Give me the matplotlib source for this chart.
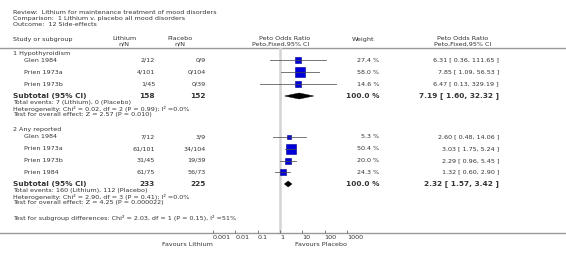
#!/usr/bin/env python3
"""Forest plot: Lithium v. placebo, outcome 12 side-effects (RevMan style)."""

import matplotlib
matplotlib.use("Agg")
import matplotlib.pyplot as plt
from matplotlib.patches import Polygon
import numpy as np

# ------------------------------------------------------------------ data
G1_NAME = "1 Hypothyroidism"
G1_STUDIES = ["Glen 1984", "Prien 1973a", "Prien 1973b"]
G1_LITH = ["2/12", "4/101", "1/45"]
G1_PLAC = ["0/9", "0/104", "0/39"]
G1_WEIGHT = [27.4, 58.0, 14.6]
G1_OR = [6.31, 7.85, 6.47]
G1_LO = [0.36, 1.09, 0.13]
G1_HI = [111.65, 56.53, 329.19]
G1_SUB = [7.19, 1.60, 32.32]
G1_TOTALS = [158, 152]
G1_NOTES = ["Total events: 7 (Lithium), 0 (Placebo)",
            "Heterogeneity: Chi\u00b2 = 0.02, df = 2 (P = 0.99); I\u00b2 =0.0%",
            "Test for overall effect: Z = 2.57 (P = 0.010)"]

G2_NAME = "2 Any reported"
G2_STUDIES = ["Glen 1984", "Prien 1973a", "Prien 1973b", "Prien 1984"]
G2_LITH = ["7/12", "61/101", "31/45", "61/75"]
G2_PLAC = ["3/9", "34/104", "19/39", "56/73"]
G2_WEIGHT = [5.3, 50.4, 20.0, 24.3]
G2_OR = [2.60, 3.03, 2.29, 1.32]
G2_LO = [0.48, 1.75, 0.96, 0.60]
G2_HI = [14.06, 5.24, 5.45, 2.90]
G2_SUB = [2.32, 1.57, 3.42]
G2_TOTALS = [233, 225]
G2_NOTES = ["Total events: 160 (Lithium), 112 (Placebo)",
            "Heterogeneity: Chi\u00b2 = 2.90, df = 3 (P = 0.41); I\u00b2 =0.0%",
            "Test for overall effect: Z = 4.25 (P = 0.000022)"]

SUBGROUP_TEST = "Test for subgroup differences: Chi\u00b2 = 2.03, df = 1 (P = 0.15), I\u00b2 =51%"
TITLE_LINES = ["Review:  Lithium for maintenance treatment of mood disorders",
               "Comparison:  1 Lithium v. placebo all mood disorders",
               "Outcome:  12 Side-effects"]
TICKS = [0.001, 0.01, 0.1, 1, 10, 100, 1000]
TICK_LABELS = ["0.001", "0.01", "0.1", "1", "10", "100", "1000"]

# ------------------------------------------------------------------ layout (pixels)
W, H = 566, 257
X_LEFT, X_STUDY = 13, 24
X_LITH, X_PLAC = 155, 206
X_WEIGHT, X_OR = 379, 499
F_LEFT, F_RIGHT = 213, 347
Y_HEAD_LINE, Y_AXIS = 48, 233
TXT = "#333333"
FS, FS_B = 4.55, 5.3

fig = plt.figure(figsize=(W / 100, H / 100), dpi=100)
ax = fig.add_axes([0, 0, 1, 1])
ax.set_xlim(0, W)
ax.set_ylim(H, 0)
ax.axis("off")

fax = fig.add_axes([F_LEFT / W, (H - Y_AXIS) / H,
                    (F_RIGHT - F_LEFT) / W, (Y_AXIS - Y_HEAD_LINE) / H])
fax.set_xscale("log")
fax.set_xlim(TICKS[0], TICKS[-1])
fax.set_ylim(Y_AXIS, Y_HEAD_LINE)
fax.patch.set_alpha(0)
for s in fax.spines.values():
    s.set_visible(False)
fax.set_yticks([])
fax.set_xticks(TICKS)
fax.set_xticklabels(TICK_LABELS)
fax.minorticks_off()
fax.tick_params(axis="x", direction="in", length=2, width=0.6, color="#666666",
                labelsize=FS, labelcolor=TXT, pad=1.5)
for lbl in fax.get_xticklabels():
    lbl.set_ha("left")
fax.axvline(1, color="#d4d4d4", lw=1.8, zorder=0)


def t(x, y, s, ha="left", bold=False, size=None):
    ax.text(x, y, s, ha=ha, va="center", color=TXT,
            fontsize=size or (FS_B if bold else FS),
            fontweight="bold" if bold else "normal")


def fmt_ci(o, lo, hi):
    return f"{o:.2f} [ {lo:.2f}, {hi:.2f} ]"


# titles and header
for i, line in enumerate(TITLE_LINES):
    t(X_LEFT, 12 + i * 6.2, line)
t(X_LEFT, 39, "Study or subgroup")
t(124, 39, "Lithium", ha="center"); t(124, 44.5, "n/N", ha="center")
t(180, 39, "Placebo", ha="center"); t(180, 44.5, "n/N", ha="center")
t(285, 39, "Peto Odds Ratio", ha="center"); t(281, 44.5, "Peto,Fixed,95% CI", ha="center")
t(363, 39, "Weight", ha="center")
t(463, 39, "Peto Odds Ratio", ha="center"); t(463, 44.5, "Peto,Fixed,95% CI", ha="center")
ax.plot([0, W], [Y_HEAD_LINE, Y_HEAD_LINE], color="#999999", lw=1.0)
ax.plot([0, W], [Y_AXIS, Y_AXIS], color="#999999", lw=1.0)

groups = [
    (G1_NAME, G1_STUDIES, G1_LITH, G1_PLAC, G1_WEIGHT, G1_OR, G1_LO, G1_HI,
     G1_SUB, G1_TOTALS, G1_NOTES, 54, [60, 72, 84], 96),
    (G2_NAME, G2_STUDIES, G2_LITH, G2_PLAC, G2_WEIGHT, G2_OR, G2_LO, G2_HI,
     G2_SUB, G2_TOTALS, G2_NOTES, 130, [137, 149, 160.5, 172], 184),
]

for (name, studies, lith, plac, wt, orr, lo, hi, sub, tot, notes,
     y_name, ys, y_sub) in groups:
    t(X_LEFT, y_name, name)
    for i, st in enumerate(studies):
        y = ys[i]
        t(X_STUDY, y, st)
        t(X_LITH, y, lith[i], ha="right")
        t(X_PLAC, y, plac[i], ha="right")
        t(X_WEIGHT, y, f"{wt[i]:.1f} %", ha="right")
        t(X_OR, y, fmt_ci(orr[i], lo[i], hi[i]), ha="right")
        fax.plot(orr[i], y, marker="s", ms=0.95 * np.sqrt(wt[i]),
                 mfc="#0000dd", mec="#00008b", mew=0.4, zorder=3,
                 clip_on=False)
        # CI line drawn over the square, as in RevMan output
        fax.plot([lo[i], hi[i]], [y, y], color="#444444", lw=0.6,
                 clip_on=False, zorder=4, alpha=0.85)
    t(X_LEFT, y_sub, "Subtotal (95% CI)", bold=True)
    t(X_LITH, y_sub, str(tot[0]), ha="right", bold=True)
    t(X_PLAC, y_sub, str(tot[1]), ha="right", bold=True)
    t(X_WEIGHT, y_sub, "100.0 %", ha="right", bold=True)
    t(X_OR, y_sub, fmt_ci(*sub), ha="right", bold=True)
    hh = 3.0
    fax.add_patch(Polygon([[sub[1], y_sub], [sub[0], y_sub - hh],
                           [sub[2], y_sub], [sub[0], y_sub + hh]],
                          closed=True, fc="black", ec="black", lw=0.3,
                          zorder=3))
    for k, note in enumerate(notes):
        t(X_LEFT, y_sub + 6.5 + k * 6.2, note)

t(X_LEFT, 218, SUBGROUP_TEST)
t(213, 244, "Favours Lithium", ha="right")
t(295, 244, "Favours Placebo")

fig.savefig("out.png", dpi=100)
